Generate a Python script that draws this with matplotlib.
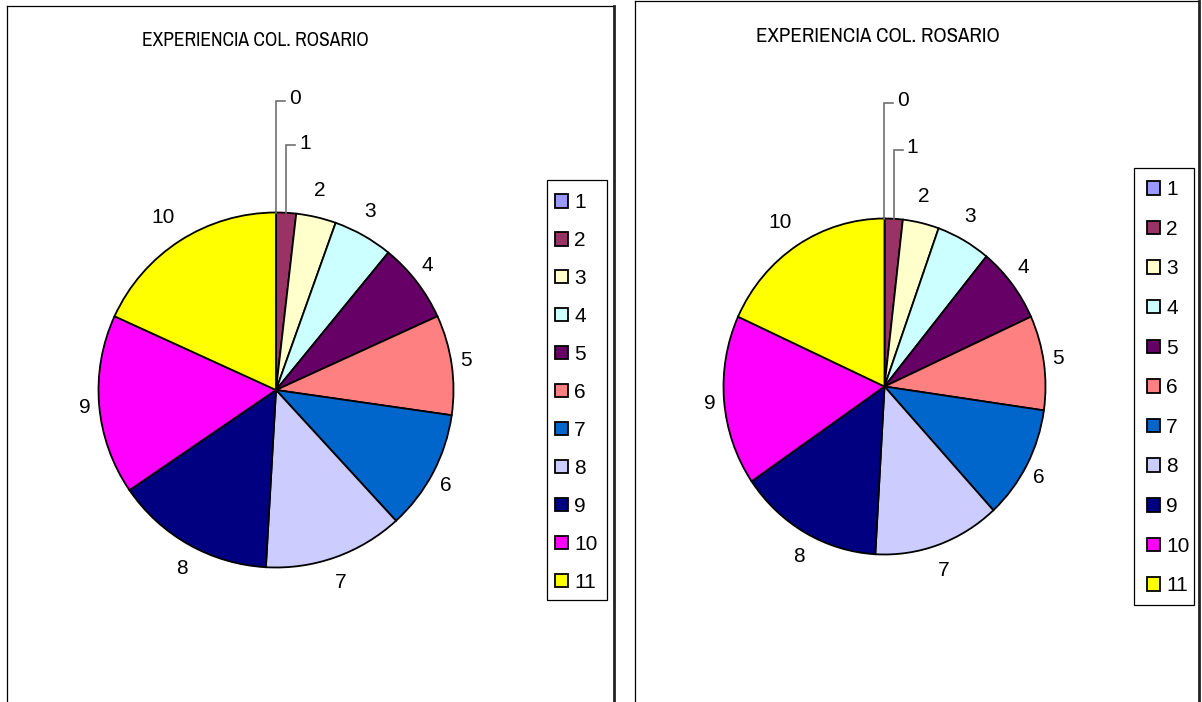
import matplotlib
matplotlib.use("Agg")
import matplotlib.pyplot as plt
from matplotlib import font_manager
from matplotlib.lines import Line2D
from matplotlib.patches import Rectangle
import numpy as np

# ---------------- data ----------------
title = "EXPERIENCIA COL. ROSARIO"
values = [0, 1, 2, 3, 4, 5, 6, 7, 8, 9, 10]
slice_labels = ["0", "1", "2", "3", "4", "5", "6", "7", "8", "9", "10"]
legend_labels = ["1", "2", "3", "4", "5", "6", "7", "8", "9", "10", "11"]
colors = ["#9999FF", "#993366", "#FFFFCC", "#CCFFFF", "#660066", "#FF8080",
          "#0066CC", "#CCCCFF", "#000080", "#FF00FF", "#FFFF00"]

# ---------------- layout (pixels) ----------------
W, H = 1202, 702
panels = [
    dict(frame=(7, 6, 614), cx=276, cy=390, rx=177.5, ry=177.5,
         title_xy=(255, 41), title_size=14.0,
         leg_anchor=(542, 180), leg_box=(547, 180, 607, 600),
         lspace=0.91, lead=(1.63, 1.38)),
    dict(frame=(635, 1, 1199), cx=884.5, cy=386.5, rx=161, ry=168,
         title_xy=(878, 36.5), title_size=15.0,
         leg_anchor=(1134, 167), leg_box=(1134, 168, 1194, 605),
         lspace=0.99, lead=(1.69, 1.41)),
]

plt.rcParams["font.family"] = ["Liberation Sans", "DejaVu Sans"]
try:
    font_manager.findfont("Archivo Narrow", fallback_to_default=False)
    title_family = ["Archivo Narrow", "Liberation Sans", "DejaVu Sans"]
    title_scale = 1.0
except Exception:
    title_family = ["Liberation Sans", "DejaVu Sans"]
    title_scale = 0.83

fig = plt.figure(figsize=(W / 100, H / 100), dpi=100)
fig.patch.set_facecolor("white")


def fx(x):
    return x / W


def fy(y):
    return 1 - y / H


K = 1.9
PX2PT = 0.72
FS = 15

for p in panels:
    # frame
    x0, y0, x1 = p["frame"]
    fig.add_artist(Line2D([fx(x0), fx(x0)], [fy(H + 5), fy(y0)], color="black",
                          lw=0.9, transform=fig.transFigure))
    fig.add_artist(Line2D([fx(x0), fx(x1)], [fy(y0), fy(y0)], color="black",
                          lw=0.9, transform=fig.transFigure))
    fig.add_artist(Line2D([fx(x1), fx(x1)], [fy(y0), fy(H + 5)], color="#222222",
                          lw=2.0, transform=fig.transFigure))

    # title
    fig.text(fx(p["title_xy"][0]), fy(p["title_xy"][1]), title, ha="center",
             va="center", color="black", family=title_family,
             size=p["title_size"] * title_scale)

    cx, cy, rx, ry = p["cx"], p["cy"], p["rx"], p["ry"]
    ax = fig.add_axes([fx(cx - K * rx), fy(cy + K * ry), 2 * K * rx / W, 2 * K * ry / H])
    wedges, _ = ax.pie(values, colors=colors, startangle=90, counterclock=False,
                       radius=1, wedgeprops=dict(edgecolor="black", linewidth=1.3))
    ax.set_aspect("auto")
    ax.set_xlim(-K, K)
    ax.set_ylim(-K, K)
    ax.axis("off")

    for i, (w, lab) in enumerate(zip(wedges, slice_labels)):
        th = np.radians((w.theta1 + w.theta2) / 2)
        c, s = np.cos(th), np.sin(th)
        if i < 2:
            level = p["lead"][i]
            dx = 9 / rx
            ax.plot([c, c, c + dx], [s, level, level], color="#707070", lw=1.2,
                    clip_on=False, solid_joinstyle="miter")
            ax.annotate(lab, xy=(c + dx, level), xytext=(4 * PX2PT, 2 * PX2PT),
                        textcoords="offset points", ha="left", va="center",
                        fontsize=FS, annotation_clip=False)
        else:
            a = 14 + 18 * (len(lab) - 1)
            b = 27
            ax.annotate(lab, xy=(c, s), xytext=(a * c * PX2PT, b * s * PX2PT),
                        textcoords="offset points", ha="center", va="center",
                        fontsize=FS, annotation_clip=False)

    # legend
    lx0, ly0 = p["leg_anchor"]
    leg = fig.legend(wedges, legend_labels, loc="upper left",
                     bbox_to_anchor=(fx(lx0), fy(ly0)), bbox_transform=fig.transFigure,
                     fontsize=FS, frameon=False, borderaxespad=0,
                     handlelength=0.62, handleheight=0.62, handletextpad=0.3,
                     labelspacing=p["lspace"], borderpad=0.63)
    for h in leg.legend_handles:
        h.set_edgecolor("black")
        h.set_linewidth(1.3)
    bx0, by0, bx1, by1 = p["leg_box"]
    fig.add_artist(Rectangle((fx(bx0), fy(by1)), (bx1 - bx0) / W, (by1 - by0) / H,
                             transform=fig.transFigure, facecolor="none",
                             edgecolor="black", lw=0.9))

fig.savefig("out.png", dpi=100, facecolor="white")
